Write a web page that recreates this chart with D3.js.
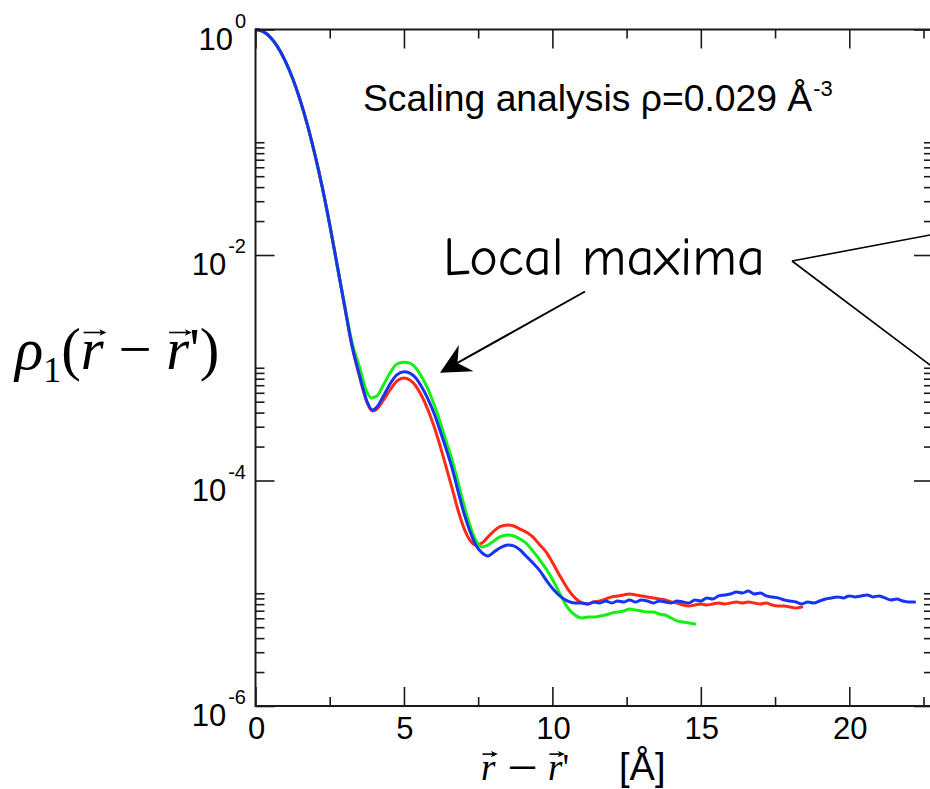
<!DOCTYPE html>
<html><head><meta charset="utf-8">
<script src="https://cdn.jsdelivr.net/npm/d3@7"></script>
<style>body{margin:0;background:#fff}svg{display:block}</style>
</head><body>
<svg id="c" width="930" height="789"></svg>
<script>
// ---------------- DATA ----------------
const rBlue = [0,0.25,0.5,0.75,1,1.25,1.5,1.75,2,2.25,2.5,2.75,3,3.25,3.5,3.75,3.93,4.09,4.29,4.53,4.76,5.0,5.2,5.4,5.6,5.81,6.01,6.21,6.41,6.62,6.82,7.02,7.22,7.42,7.63,7.83,8.03,8.23,8.5,8.7,8.91,9.11,9.34,9.58,9.81,10.05,10.29,10.52,10.76,
  11.0,11.2,11.4,11.6,11.8,12.0,12.2,12.4,12.6,12.8,13.0,13.2,13.4,13.6,13.8,14.0,14.2,14.4,14.6,14.8,15.0,15.2,15.4,15.6,15.8,16.0,16.2,16.4,16.6,16.8,17.0,17.2,17.4,17.6,17.8,18.0,18.2,18.4,18.6,18.8,19.0,19.2,19.4,19.6,19.8,20.0,20.2,20.4,20.6,20.8,21.0,21.2,21.4,21.6,21.8,22.0,22.2];
const rhoBlue = [1,0.962,0.853,0.698,0.528,0.369,0.238,0.142,0.078,0.0398,0.0186,0.00813,0.00355,0.00158,8.63e-4,5.07e-4,4.22e-4,4.49e-4,5.5e-4,7.18e-4,8.63e-4,9.22e-4,8.98e-4,8.11e-4,6.75e-4,5.28e-4,3.97e-4,2.81e-4,1.94e-4,1.29e-4,8.07e-5,5.15e-5,3.56e-5,2.68e-5,2.28e-5,2.14e-5,2.32e-5,2.52e-5,2.68e-5,2.63e-5,2.42e-5,2.14e-5,1.86e-5,1.58e-5,1.29e-5,1.07e-5,9.3e-6,8.5e-6,8.2e-6,
  8.20e-6,8.03e-6,8.36e-6,8.20e-6,8.54e-6,8.20e-6,8.54e-6,8.36e-6,8.72e-6,8.36e-6,8.72e-6,8.54e-6,8.20e-6,8.54e-6,8.36e-6,8.20e-6,8.54e-6,8.36e-6,8.20e-6,8.72e-6,8.54e-6,9.09e-6,8.90e-6,9.47e-6,9.66e-6,9.86e-6,1.026e-5,1.005e-5,1.047e-5,9.86e-6,1.005e-5,9.47e-6,9.28e-6,9.09e-6,8.72e-6,8.54e-6,8.36e-6,8.03e-6,8.36e-6,8.20e-6,8.54e-6,8.90e-6,9.09e-6,9.28e-6,9.09e-6,9.47e-6,9.28e-6,9.47e-6,9.66e-6,9.28e-6,9.47e-6,9.09e-6,8.72e-6,8.90e-6,8.54e-6,8.36e-6,8.36e-6];

const rRed = [0,0.25,0.5,0.75,1,1.25,1.5,1.75,2,2.25,2.5,2.75,3,3.25,3.5,3.75,3.93,4.09,4.29,4.53,4.76,5.0,5.2,5.4,5.6,5.81,6.01,6.21,6.41,6.62,6.82,7.02,7.22,7.42,7.63,7.83,8.03,8.23,8.5,8.7,8.91,9.11,9.34,9.58,9.81,10.05,10.29,10.52,10.76,
  11.0,11.2,11.4,11.6,11.8,12.0,12.2,12.4,12.6,12.8,13.0,13.2,13.4,13.6,13.8,14.0,14.2,14.4,14.6,14.8,15.0,15.2,15.4,15.6,15.8,16.0,16.2,16.4,16.6,16.8,17.0,17.2,17.4,17.6,17.8,18.0,18.2,18.4];
const rhoRed = [1,0.962,0.853,0.698,0.528,0.369,0.238,0.142,0.078,0.0398,0.0186,0.00813,0.00352,0.00155,8.45e-4,4.97e-4,4.14e-4,4.3e-4,5.07e-4,6.35e-4,7.62e-4,8.11e-4,7.78e-4,6.89e-4,5.61e-4,4.22e-4,3.04e-4,2.06e-4,1.35e-4,8.57e-5,5.47e-5,3.79e-5,2.96e-5,2.68e-5,2.79e-5,3.16e-5,3.56e-5,3.89e-5,4.03e-5,3.95e-5,3.71e-5,3.49e-5,3.16e-5,2.68e-5,2.28e-5,1.78e-5,1.37e-5,1.09e-5,9.09e-6,
  8.20e-6,8.03e-6,8.36e-6,8.54e-6,8.90e-6,9.28e-6,9.47e-6,9.66e-6,9.86e-6,9.66e-6,9.47e-6,9.28e-6,9.09e-6,8.90e-6,8.72e-6,8.36e-6,8.20e-6,7.87e-6,7.71e-6,7.87e-6,8.03e-6,7.87e-6,8.03e-6,8.20e-6,8.03e-6,8.20e-6,8.36e-6,8.20e-6,8.36e-6,8.20e-6,8.03e-6,8.20e-6,7.87e-6,7.71e-6,7.71e-6,7.56e-6,7.40e-6,7.56e-6];

const rGreen = [0,0.25,0.5,0.75,1,1.25,1.5,1.75,2,2.25,2.5,2.75,3,3.25,3.5,3.75,3.9,4.09,4.29,4.53,4.76,5.0,5.2,5.4,5.6,5.81,6.01,6.21,6.41,6.62,6.82,7.02,7.22,7.42,7.63,7.83,8.03,8.23,8.5,8.7,8.91,9.11,9.34,9.58,9.81,10.05,10.29,10.52,10.76,
  11.0,11.2,11.4,11.6,11.8,12.0,12.2,12.4,12.6,12.8,13.0,13.2,13.4,13.6,13.8,14.0,14.2,14.4,14.6,14.8];
const rhoGreen = [1,0.962,0.853,0.698,0.528,0.369,0.238,0.142,0.078,0.0398,0.0186,0.00813,0.0036,0.00168,1.02e-3,6.1e-4,5.4e-4,5.61e-4,6.89e-4,8.98e-4,1.08e-3,1.12e-3,1.10e-3,9.95e-4,8.28e-4,6.47e-4,4.76e-4,3.36e-4,2.28e-4,1.52e-4,9.7e-5,6.07e-5,4.03e-5,2.96e-5,2.57e-5,2.68e-5,2.91e-5,3.16e-5,3.29e-5,3.22e-5,3.03e-5,2.79e-5,2.37e-5,1.97e-5,1.61e-5,1.26e-5,9.47e-6,7.40e-6,6.41e-6,
  6.03e-6,6.15e-6,6.15e-6,6.28e-6,6.41e-6,6.68e-6,6.82e-6,6.96e-6,7.25e-6,7.10e-6,6.96e-6,6.82e-6,6.82e-6,6.55e-6,6.41e-6,6.03e-6,5.68e-6,5.56e-6,5.45e-6,5.34e-6];

const xMajorTicks = [0,5,10,15,20];
const xMinorTicks = [2.5,7.5,12.5,17.5,22.5];
const xTickLabels = ["0","5","10","15","20"];
const yMajorTicks = [1,1e-2,1e-4,1e-6];
const yTickExponents = ["0","-2","-4","-6"];
const yMinorTicks = [2e-2,3e-2,4e-2,5e-2,6e-2,7e-2,8e-2,9e-2,1e-1,
                     2e-4,3e-4,4e-4,5e-4,6e-4,7e-4,8e-4,9e-4,1e-3,
                     2e-6,3e-6,4e-6,5e-6,6e-6,7e-6,8e-6,9e-6,1e-5];
const annotationText = "Scaling analysis ρ=0.029 Å";
const annotationSup = "-3";
const calloutText = "Local maxima";

// ---------------- LAYOUT ----------------
const L = 255.5, R = 933, T = 29.5, B = 706;
const svg = d3.select("#c");
const x = d3.scaleLinear().domain([0, 22.82]).range([L, R]);
const y = d3.scaleLog().domain([1e-6, 1]).range([B, T]);
const ink = "#1a1a1a";
const MAJ = 19, MIN = 9;

svg.append("defs").append("clipPath").attr("id","clip")
  .append("rect").attr("x",L).attr("y",T-2).attr("width",R-L).attr("height",B-T+4);

// curves
const line = d3.line().x(d=>x(d[0])).y(d=>y(d[1])).curve(d3.curveMonotoneX);
const series = [
  {r:rRed, v:rhoRed, c:"#ff2a12"},
  {r:rGreen, v:rhoGreen, c:"#14f014"},
  {r:rBlue, v:rhoBlue, c:"#1634f2"}
];
const gc = svg.append("g").attr("clip-path","url(#clip)");
series.forEach(s=>{
  gc.append("path").datum(s.r.map((r,i)=>[r,s.v[i]]))
    .attr("d",line).attr("fill","none").attr("stroke",s.c)
    .attr("stroke-width",3).attr("stroke-linejoin","round").attr("stroke-linecap","round");
});

// axes (ticks via d3 axes, inward)
function styleAxis(sel){ sel.select(".domain").remove(); sel.selectAll("line").attr("stroke",ink).attr("stroke-width",1.6); sel.selectAll("text").remove(); }
svg.append("g").attr("transform",`translate(0,${B})`).call(d3.axisBottom(x).tickValues(xMajorTicks).tickSize(-MAJ).tickFormat("")).call(styleAxis);
svg.append("g").attr("transform",`translate(0,${B})`).call(d3.axisBottom(x).tickValues(xMinorTicks).tickSize(-MIN).tickFormat("")).call(styleAxis);
svg.append("g").attr("transform",`translate(0,${T})`).call(d3.axisTop(x).tickValues(xMajorTicks).tickSize(-MAJ).tickFormat("")).call(styleAxis);
svg.append("g").attr("transform",`translate(0,${T})`).call(d3.axisTop(x).tickValues(xMinorTicks).tickSize(-MIN).tickFormat("")).call(styleAxis);
svg.append("g").attr("transform",`translate(${L},0)`).call(d3.axisLeft(y).tickValues(yMajorTicks).tickSize(-MAJ).tickFormat("")).call(styleAxis);
svg.append("g").attr("transform",`translate(${L},0)`).call(d3.axisLeft(y).tickValues(yMinorTicks).tickSize(-MIN).tickFormat("")).call(styleAxis);
svg.append("g").attr("transform",`translate(${R},0)`).call(d3.axisRight(y).tickValues(yMajorTicks).tickSize(-MAJ).tickFormat("")).call(styleAxis);
svg.append("g").attr("transform",`translate(${R},0)`).call(d3.axisRight(y).tickValues(yMinorTicks).tickSize(-MIN).tickFormat("")).call(styleAxis);

svg.append("rect").attr("x",L).attr("y",T).attr("width",R-L).attr("height",B-T)
  .attr("fill","none").attr("stroke",ink).attr("stroke-width",2);

const sans = "'Liberation Sans', Arial, Helvetica, sans-serif";
const serif = "'Liberation Serif', 'Times New Roman', serif";

// x tick labels
svg.append("g").selectAll("text").data(xMajorTicks).join("text")
  .attr("x",d=>x(d)+1).attr("y",739).attr("text-anchor","middle")
  .attr("font-family",sans).attr("font-size",31).attr("fill","#000")
  .text((d,i)=>xTickLabels[i]);

// y tick labels 10^n
const yl = svg.append("g").selectAll("text").data(yMajorTicks).join("text")
  .attr("x",246).attr("y",d=>y(d)+20).attr("text-anchor","end")
  .attr("font-family",sans).attr("fill","#000");
yl.append("tspan").attr("font-size",31).text("10");
yl.append("tspan").attr("font-size",20).attr("dx",2).attr("dy",-22).text((d,i)=>yTickExponents[i]);

// ---------------- TEXT HELPERS ----------------
function fitWidth(textSel, target){
  const w = textSel.node().getBBox().width;
  const k = target / w;
  textSel.selectAll("tspan").each(function(){
    const t = d3.select(this);
    ["font-size","dy","dx"].forEach(a=>{ const v=t.attr(a); if(v!==null) t.attr(a, parseFloat(v)*k); });
  });
  const fs = textSel.attr("font-size"); if(fs!==null) textSel.attr("font-size", parseFloat(fs)*k);
  return k;
}
function vecArrow(cx, yy, w, sw){
  svg.append("line").attr("x1",cx-w/2).attr("x2",cx+w/2-3).attr("y1",yy).attr("y2",yy)
    .attr("stroke","#000").attr("stroke-width",sw);
  svg.append("path").attr("d",`M${cx+w/2+1},${yy} l-7,-3.2 l1.8,3.2 l-1.8,3.2z`).attr("fill","#000");
}

// annotation text
const at = svg.append("text").attr("x",363).attr("y",111).attr("font-family",sans).attr("fill","#000");
at.append("tspan").attr("font-size",34).text(annotationText);
at.append("tspan").attr("font-size",20).attr("dx",1).attr("dy",-14).text(annotationSup);
fitWidth(at, 470);

// callout
const ct = svg.append("text").attr("x",443).attr("y",275)
  .attr("font-family","'Comic Sans MS','Comic Neue','Chalkboard','DejaVu Sans',sans-serif")
  .attr("fill","#000");
ct.append("tspan").attr("font-size",44).text(calloutText);
fitWidth(ct, 322);

// callout arrow (filled head)
(function(){
  const tip=[440,372.7], tail=[585,291.5];
  const dx=tail[0]-tip[0], dy=tail[1]-tip[1], len=Math.hypot(dx,dy);
  const ux=dx/len, uy=dy/len, px=-uy, py=ux;
  const hl=30, hw=15, notch=20;
  svg.append("line").attr("x1",tail[0]).attr("y1",tail[1])
    .attr("x2",tip[0]+ux*notch).attr("y2",tip[1]+uy*notch).attr("stroke","#000").attr("stroke-width",2);
  const c1=[tip[0]+ux*hl+px*hw, tip[1]+uy*hl+py*hw];
  const c2=[tip[0]+ux*hl-px*hw, tip[1]+uy*hl-py*hw];
  const n=[tip[0]+ux*notch, tip[1]+uy*notch];
  svg.append("path").attr("d",`M${tip}L${c1}L${n}L${c2}Z`).attr("fill","#000");
})();
// lines to right
const vtx=[792,261];
svg.append("line").attr("x1",vtx[0]).attr("y1",vtx[1]).attr("x2",960).attr("y2",261-168*26/138).attr("stroke","#000").attr("stroke-width",1.6);
svg.append("line").attr("x1",vtx[0]).attr("y1",vtx[1]).attr("x2",960).attr("y2",261+168*104/138).attr("stroke","#000").attr("stroke-width",1.6);

// y-axis label rho_1(r - r')
const ylab = svg.append("text").attr("x",15).attr("y",369).attr("font-family",serif).attr("fill","#000");
ylab.append("tspan").attr("font-size",46).attr("font-style","italic").text("ρ");
ylab.append("tspan").attr("font-size",28).attr("dy",10).text("1");
ylab.append("tspan").attr("font-size",46).attr("dy",-10).text("(");
ylab.append("tspan").attr("font-size",46).attr("font-style","italic").text("r");
ylab.append("tspan").attr("font-size",46).text(" − ");
ylab.append("tspan").attr("font-size",46).attr("font-style","italic").text("r");
ylab.append("tspan").attr("font-size",46).text("')");
const ky = fitWidth(ylab, 207);
[3,7].forEach(i=>{
  const e = ylab.node().getExtentOfChar(i);
  vecArrow(e.x+e.width*0.6, 369-46*ky*0.62, e.width*0.95, 1.6);
});

// x-axis label r - r'  [Å]
const XB = 780, XF = 37;
const xlab = svg.append("text").attr("y",XB).attr("font-family",serif).attr("font-size",XF).attr("fill","#000");
xlab.append("tspan").attr("x",481).attr("font-style","italic").text("r");
xlab.append("tspan").attr("x",507).attr("textLength",31).attr("lengthAdjust","spacingAndGlyphs").attr("font-weight","bold").text("−");
xlab.append("tspan").attr("x",548).attr("font-style","italic").text("r");
xlab.append("tspan").text("'");
[0,2].forEach(i=>{
  const e = xlab.node().getExtentOfChar(i);
  vecArrow(e.x+e.width*0.6, XB-XF*0.7, e.width*1.0, 1.6);
});
svg.append("text").attr("x",619).attr("y",780).attr("font-family",sans).attr("font-size",38).attr("fill","#000").text("[Å]");
</script>
</body></html>
